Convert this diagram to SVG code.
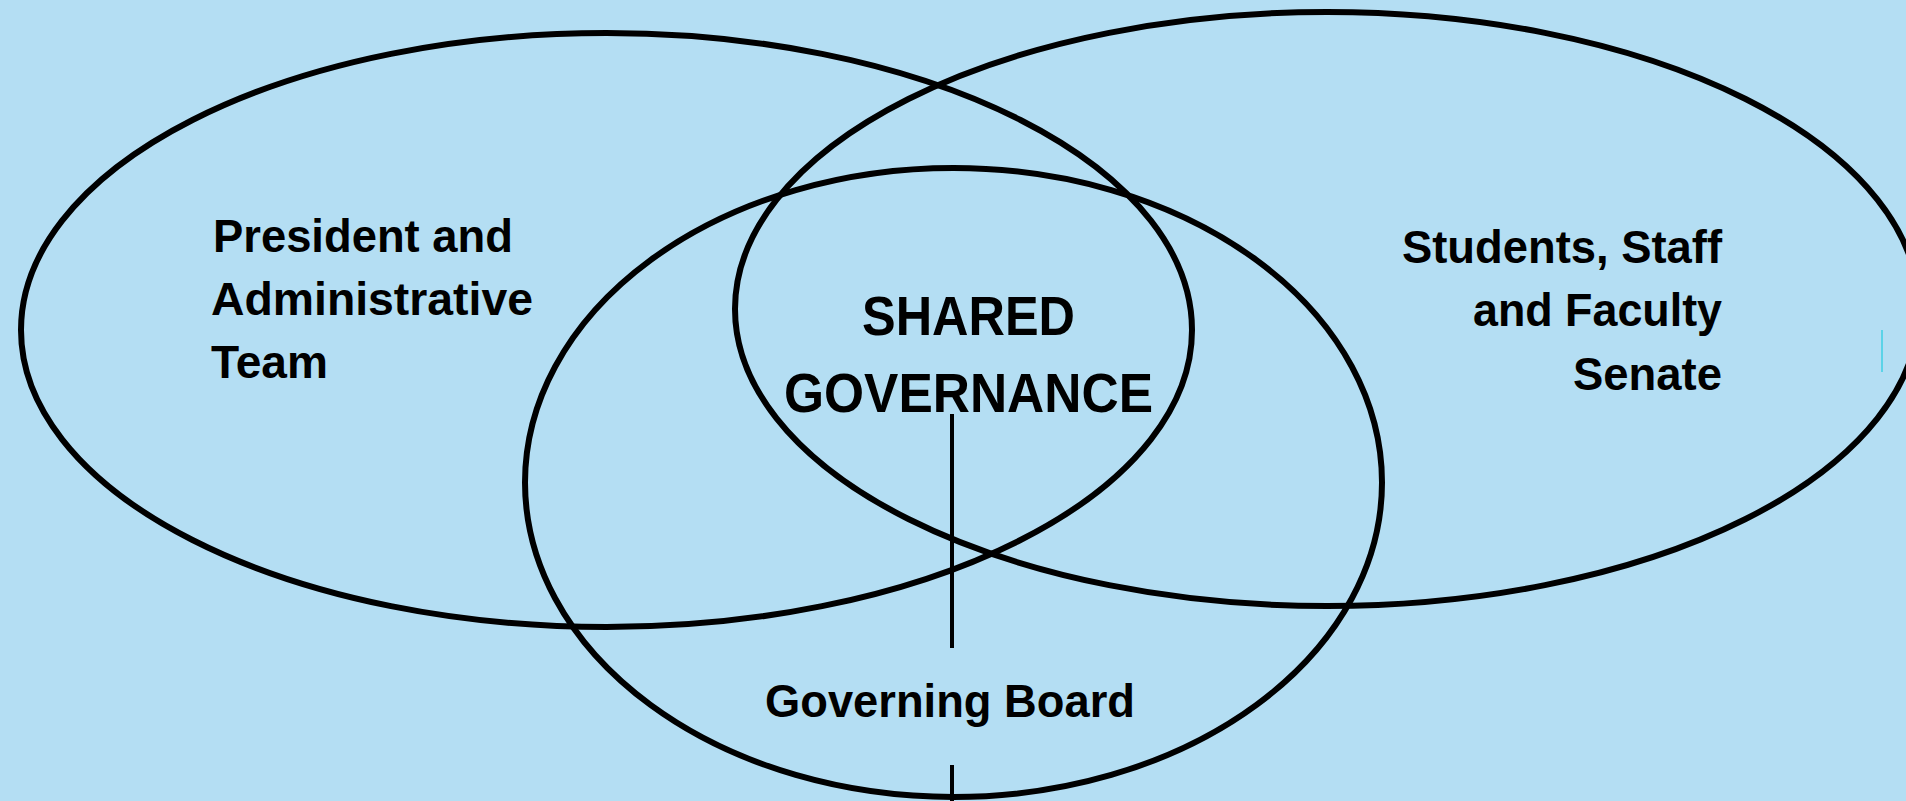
<svg xmlns="http://www.w3.org/2000/svg" width="1906" height="801" viewBox="0 0 1906 801">
<style>
.ell{fill:none;stroke:#000;stroke-width:6}
.conn{stroke:#000;stroke-width:4}
.lbl{font-family:"Liberation Sans",Arial,sans-serif;font-weight:bold;font-size:46px;fill:#000}
.big{font-size:56px}
</style>
<rect width="1906" height="801" fill="#B4DEF3"/>
<g id="node-admin">
<ellipse class="ell" cx="606.5" cy="330" rx="585.5" ry="297"/>
<text class="lbl" x="213" y="252" textLength="300" lengthAdjust="spacingAndGlyphs">President and</text>
<text class="lbl" x="211" y="315" textLength="322" lengthAdjust="spacingAndGlyphs">Administrative</text>
<text class="lbl" x="211" y="378" textLength="117" lengthAdjust="spacingAndGlyphs">Team</text>
</g>
<g id="node-senate">
<ellipse class="ell" cx="1327" cy="309" rx="592" ry="297"/>
<text class="lbl" x="1402" y="263" textLength="320" lengthAdjust="spacingAndGlyphs">Students, Staff</text>
<text class="lbl" x="1473" y="326" textLength="249" lengthAdjust="spacingAndGlyphs">and Faculty</text>
<text class="lbl" x="1573" y="390" textLength="149" lengthAdjust="spacingAndGlyphs">Senate</text>
</g>
<g id="node-board">
<ellipse class="ell" cx="953.5" cy="482.5" rx="428.5" ry="314.5"/>
<text class="lbl" x="765" y="717" textLength="370" lengthAdjust="spacingAndGlyphs">Governing Board</text>
</g>
<g id="node-shared">
<text class="lbl big" x="862" y="335" textLength="213" lengthAdjust="spacingAndGlyphs">SHARED</text>
<text class="lbl big" x="784" y="412" textLength="369" lengthAdjust="spacingAndGlyphs">GOVERNANCE</text>
</g>
<g id="connectors">
<line class="conn" x1="952" y1="414" x2="952" y2="648"/>
<line class="conn" x1="952" y1="765" x2="952" y2="801"/>
</g>
<line x1="1882" y1="330" x2="1882" y2="372" stroke="#5BD3E8" stroke-width="2"/>
</svg>
